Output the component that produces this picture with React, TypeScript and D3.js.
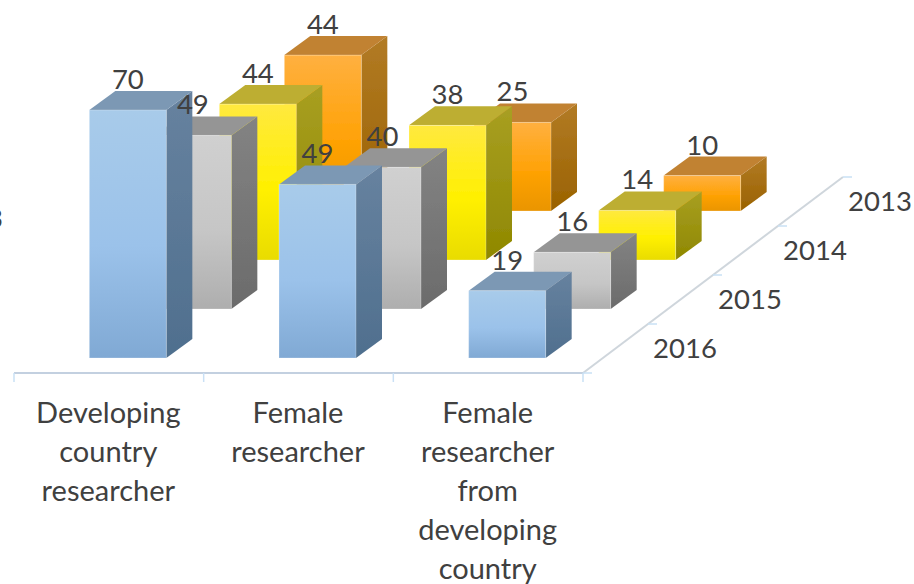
import * as d3 from "d3";

const WIDTH = 914;
const HEIGHT = 584;

const categories = [
  ["Developing", "country", "researcher"],
  ["Female", "researcher"],
  ["Female", "researcher", "from", "developing", "country"],
];
// back row first, so that the front rows paint over it
const years = ["2013", "2014", "2015", "2016"];
const values2013 = [44, 25, 10];
const values2014 = [44, 38, 14];
const values2015 = [49, 40, 16];
const values2016 = [70, 49, 19];
const seriesValues = [values2013, values2014, values2015, values2016];

type Shade = { front: string[]; side: string[]; top: string };
const shades: Shade[] = [
  { front: ["#ffb040", "#ffa206", "#ea9500"], side: ["#b27b25", "#9a6200"], top: "#c18232" },
  { front: ["#ffe93f", "#fff000", "#e9dc00"], side: ["#a89f22", "#8f8800"], top: "#bdae30" },
  { front: ["#d0d0d0", "#c6c6c6", "#aeaeae"], side: ["#838383", "#6b6b6b"], top: "#959595" },
  { front: ["#a8cbea", "#9bc2ea", "#80a9d4"], side: ["#67829f", "#4f6f8e"], top: "#7c98b4" },
];

const FLOOR_LEFT = 14;
const FLOOR_RIGHT = 583;
const FLOOR_Y = 373;
const DEPTH_X = 26;
const DEPTH_Y = -19;
const FONT = "Lato, 'Open Sans', sans-serif";
const TEXT = "#404040";

const x = d3
  .scaleBand<number>()
  .domain(categories.map((_, i) => i))
  .range([FLOOR_LEFT, FLOOR_RIGHT])
  .paddingInner(0.594)
  .paddingOuter(0.297);
const rowX = d3.scalePoint<string>().domain([...years].reverse()).range([19, 214]);
const rowY = d3.scalePoint<string>().domain([...years].reverse()).range([358, 211]);
const h = d3.scaleLinear().domain([0, 70]).range([0, 248]);
// depth axis runs from the front corner to the back corner in four steps
const axisX = d3.scaleLinear().domain([0, 4]).range([FLOOR_RIGHT, 843]);
const axisY = d3.scaleLinear().domain([0, 4]).range([FLOOR_Y, 177]);

const poly = (pts: [number, number][]) => d3.line()(pts)! + "Z";

const App = () => {
  const w = x.bandwidth();
  return (
    <svg
      width={WIDTH}
      height={HEIGHT}
      style={{ position: "absolute", left: 0, top: 0, display: "block" }}
    >
      <defs>
        {shades.map((s, i) => (
          <g key={i}>
            <linearGradient id={`front${i}`} x1="0" y1="0" x2="0" y2="1">
              <stop offset="0" stopColor={s.front[0]} />
              <stop offset="0.55" stopColor={s.front[1]} />
              <stop offset="1" stopColor={s.front[2]} />
            </linearGradient>
            <linearGradient id={`side${i}`} x1="0" y1="0" x2="0" y2="1">
              <stop offset="0" stopColor={s.side[0]} />
              <stop offset="1" stopColor={s.side[1]} />
            </linearGradient>
          </g>
        ))}
        <filter id="soft" x="-5%" y="-5%" width="110%" height="110%">
          <feGaussianBlur stdDeviation="0.45" />
        </filter>
      </defs>

      <g stroke="#c3d0e0" strokeWidth={2} fill="none">
        <line x1={FLOOR_LEFT} x2={FLOOR_RIGHT} y1={FLOOR_Y} y2={FLOOR_Y} />
        <line x1={axisX(0)} y1={axisY(0)} x2={axisX(4)} y2={axisY(4)} stroke="#cfd6dc" />
      </g>
      <g stroke="#c9e0f5" strokeWidth={1.5}>
        {d3.range(4).map((i) => {
          const tx = FLOOR_LEFT + (i * (FLOOR_RIGHT - FLOOR_LEFT)) / 3;
          return <line key={i} x1={tx} x2={tx} y1={FLOOR_Y} y2={FLOOR_Y + 9} />;
        })}
        {d3.range(5).map((i) => (
          <line key={i} x1={axisX(i)} x2={axisX(i) + 9} y1={axisY(i)} y2={axisY(i)} />
        ))}
      </g>

      <g filter="url(#soft)">
        {years.map((year, r) =>
          seriesValues[r].map((v, c) => {
            const x0 = x(c)! + rowX(year)!;
            const x1 = x0 + w;
            const y0 = rowY(year)!;
            const y1 = y0 - h(v);
            return (
              <g key={`${year}-${c}`}>
                <path
                  d={poly([
                    [x1, y1],
                    [x1 + DEPTH_X, y1 + DEPTH_Y],
                    [x1 + DEPTH_X, y0 + DEPTH_Y],
                    [x1, y0],
                  ])}
                  fill={`url(#side${r})`}
                />
                <path
                  d={poly([
                    [x0, y1],
                    [x0 + DEPTH_X, y1 + DEPTH_Y],
                    [x1 + DEPTH_X, y1 + DEPTH_Y],
                    [x1, y1],
                  ])}
                  fill={shades[r].top}
                />
                <rect
                  x={x0}
                  y={y1}
                  width={w}
                  height={y0 - y1}
                  fill={`url(#front${r})`}
                  stroke="#ffffff"
                  strokeOpacity={0.25}
                />
              </g>
            );
          })
        )}
      </g>

      <g fontFamily={FONT} fontSize={27.5} fill={TEXT} textAnchor="middle">
        {years.map((year, r) =>
          seriesValues[r].map((v, c) => (
            <text
              key={`${year}-${c}`}
              x={x(c)! + rowX(year)! + w / 2}
              y={rowY(year)! - h(v) + DEPTH_Y - 2}
            >
              {v}
            </text>
          ))
        )}
        {years.map((year) => (
          <text key={year} x={FLOOR_RIGHT + rowX(year)! + 83} y={rowY(year)! - 0.5}>
            {year}
          </text>
        ))}
        {categories.map((lines, c) => (
          <text key={c} fontSize={29}>
            {lines.map((line, i) => (
              <tspan key={i} x={x(c)! + w / 2 - 0.5} y={423 + i * 39}>
                {line}
              </tspan>
            ))}
          </text>
        ))}
        <text x={3} y={228} textAnchor="end">
          3
        </text>
      </g>
    </svg>
  );
};

export default App;
